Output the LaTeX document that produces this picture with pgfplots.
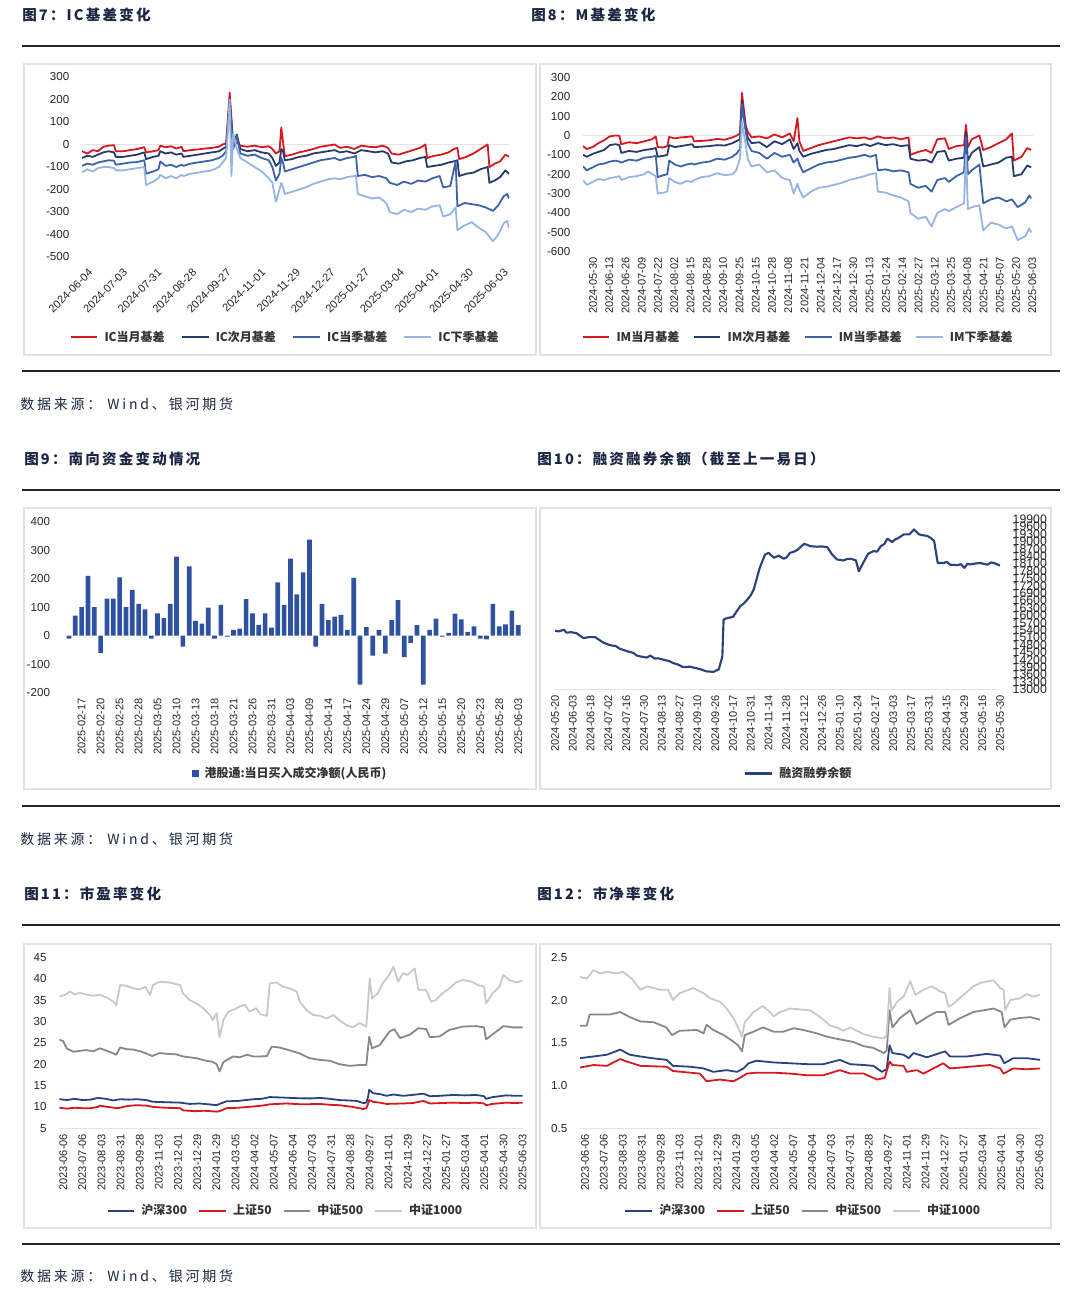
\documentclass[border=0pt]{standalone}
\usepackage{fontspec}
\setmainfont{Liberation Sans}
\newfontfamily\cjk{Noto Sans CJK SC}
\usepackage{pgfplots}
\pgfplotsset{compat=1.18}

\definecolor{cRed}{RGB}{214,24,32}
\definecolor{cNavy}{RGB}{38,58,108}
\definecolor{cMid}{RGB}{62,98,170}
\definecolor{cLight}{RGB}{150,180,228}
\definecolor{cBar}{RGB}{46,82,160}
\definecolor{cHS}{RGB}{42,66,125}
\definecolor{cG5}{RGB}{136,136,136}
\definecolor{cG1}{RGB}{200,200,200}
\definecolor{cTitle}{RGB}{28,38,66}
\definecolor{cFrame}{RGB}{226,226,226}

\def\pu{0.75pt}

\pgfplotsset{
  panel/.style={
    scale only axis, enlargelimits=false,
    axis line style={draw=none},
    major tick length=0pt, tick style={draw=none},
    /pgf/number format/assume math mode=true,
    tick label style={text=black!85},
    yticklabel style={font=\fontsize{8.7}{9}\selectfont, xshift=-6pt},
    xticklabel style={font=\fontsize{8.3}{9}\selectfont},
    grid style={gray!22, line width=0.9pt},
    extra y tick labels={},
    extra y tick style={grid=major},
    legend style={draw=none, fill=none, inner sep=0pt, anchor=west,
      font=\cjk\bfseries\fontsize{9}{10}\selectfont, text=black!80,
      /tikz/every odd column/.append style={column sep=2.5pt}},
    legend image code/.code={\draw[##1, line width=1.8pt] (0pt,0pt) -- (20pt,0pt);},
    every axis plot/.append style={line width=1.35pt, line join=round},
  },
  vlabels/.style={xticklabel style={rotate=90, anchor=east, inner sep=4pt}},
}

\begin{document}
\begin{tikzpicture}
\useasboundingbox (0,0) rectangle (810pt,-979.5pt);

% titles, rules, frames
\tikzset{ttl/.style={anchor=west, inner sep=0pt, text=cTitle,
  font=\cjk\bfseries\fontsize{10.9}{12}\selectfont\addfontfeature{LetterSpace=15}},
  src/.style={anchor=west, inner sep=0pt, text=cTitle,
  font=\cjk\fontsize{10.5}{12}\selectfont\addfontfeature{LetterSpace=20}},
  rule/.style={black!85, line width=1.6pt},
  frm/.style={cFrame, line width=0.8pt}}

\node[ttl] at (22*\pu,-15*\pu) {图7：IC基差变化};
\node[ttl] at (531*\pu,-15*\pu) {图8：M基差变化};
\draw[rule] (22*\pu,-46*\pu) -- (1060*\pu,-46*\pu);
\draw[frm] (24*\pu,-64*\pu) rectangle (536*\pu,-355*\pu);
\draw[frm] (540*\pu,-64*\pu) rectangle (1051*\pu,-355*\pu);
\draw[rule] (22*\pu,-371*\pu) -- (1060*\pu,-371*\pu);
\node[src] at (20*\pu,-404*\pu) {数据来源： Wind、银河期货};

\node[ttl] at (24*\pu,-459*\pu) {图9：南向资金变动情况};
\node[ttl] at (537*\pu,-459*\pu) {图10：融资融券余额（截至上一易日）};
\draw[rule] (22*\pu,-490*\pu) -- (1060*\pu,-490*\pu);
\draw[frm] (24*\pu,-508*\pu) rectangle (536*\pu,-789*\pu);
\draw[frm] (540*\pu,-508*\pu) rectangle (1051*\pu,-789*\pu);
\draw[rule] (22*\pu,-806*\pu) -- (1060*\pu,-806*\pu);
\node[src] at (20*\pu,-839*\pu) {数据来源： Wind、银河期货};

\node[ttl] at (24*\pu,-894*\pu) {图11：市盈率变化};
\node[ttl] at (537*\pu,-894*\pu) {图12：市净率变化};
\draw[rule] (22*\pu,-925*\pu) -- (1060*\pu,-925*\pu);
\draw[frm] (24*\pu,-944*\pu) rectangle (536*\pu,-1228*\pu);
\draw[frm] (540*\pu,-944*\pu) rectangle (1051*\pu,-1228*\pu);
\draw[rule] (22*\pu,-1244*\pu) -- (1060*\pu,-1244*\pu);
\node[src] at (20*\pu,-1276*\pu) {数据来源： Wind、银河期货};

% ---------- Fig 7: IC basis ----------
\begin{axis}[panel, at={(61.5pt,-192.75pt)}, anchor=south west,
  width=320.25pt, height=135pt,
  xmin=0, xmax=240, ymin=-500, ymax=300,
  ytick={-500,-400,...,300}, extra y ticks={0},
  xtick={6.5,26,45.4,64.9,84.3,103.8,123.2,142.7,162.1,181.6,201,220.5,240},
  xticklabels={2024-06-04,2024-07-03,2024-07-31,2024-08-28,2024-09-27,2024-11-01,2024-11-29,2024-12-27,2025-01-27,2025-03-04,2025-04-01,2025-04-30,2025-06-03},
  xticklabel style={yshift=-8pt, rotate=45, anchor=east, inner sep=3pt},
  legend columns=4,
  legend style={at={(-0.030,-0.444)}, /tikz/every even column/.append style={column sep=10pt}},
]
\addplot[cRed] coordinates {(0,-30)(3,-40)(6,-25)(9,-30)(12,-10)(15,-5)(18,-3)(19,-30)(23,-30)(27,-25)(31,-20)(35,-12)(36,-35)(40,-30)(43,-25)(44,-5)(47,-12)(50,-8)(53,-18)(56,-10)(57,-30)(61,-25)(65,-22)(69,-18)(73,-15)(77,-10)(79,0)(81,5)(83,230)(85,0)(87,10)(89,-5)(93,-10)(97,-5)(101,-12)(105,-8)(107,-20)(109,-40)(111,-30)(112,75)(113,10)(114,-52)(118,-45)(122,-35)(126,-28)(130,-20)(134,-10)(138,-5)(142,0)(145,-15)(149,-10)(153,-20)(157,-5)(161,-10)(165,-12)(169,-5)(172,-15)(174,-40)(178,-45)(182,-35)(186,-25)(190,-15)(193,0)(194,-60)(198,-50)(202,-45)(206,-35)(209,-20)(211,-15)(212,-65)(216,-55)(220,-40)(224,-20)(228,0)(229,-100)(232,-85)(235,-75)(238,-45)(240,-55)};
\addlegendentry{IC当月基差}
\addplot[cNavy] coordinates {(0,-60)(3,-50)(6,-55)(9,-45)(12,-35)(15,-30)(18,-35)(19,-55)(23,-55)(27,-50)(31,-45)(35,-35)(36,-65)(40,-55)(43,-50)(44,-30)(47,-40)(50,-35)(53,-45)(56,-40)(57,-55)(61,-50)(65,-45)(69,-40)(73,-35)(77,-30)(79,-20)(81,-10)(83,200)(85,-10)(87,45)(89,-20)(93,-30)(97,-25)(101,-35)(105,-40)(107,-60)(109,-95)(111,-80)(112,-20)(113,-30)(114,-70)(118,-65)(122,-55)(126,-50)(130,-40)(134,-35)(138,-30)(142,-25)(145,-35)(149,-30)(153,-40)(157,-25)(161,-30)(165,-35)(169,-30)(172,-40)(174,-80)(178,-85)(182,-75)(186,-70)(190,-60)(193,-55)(194,-100)(198,-95)(202,-90)(206,-80)(209,-75)(211,-70)(212,-140)(216,-130)(220,-125)(224,-110)(228,-100)(229,-170)(232,-160)(235,-145)(238,-115)(240,-130)};
\addlegendentry{IC次月基差}
\addplot[cMid] coordinates {(0,-95)(3,-85)(6,-90)(9,-80)(12,-75)(15,-70)(18,-72)(19,-90)(23,-85)(27,-80)(31,-78)(35,-70)(36,-130)(40,-120)(43,-110)(44,-75)(47,-95)(50,-90)(53,-100)(56,-90)(57,-95)(61,-85)(65,-80)(69,-75)(73,-70)(77,-60)(79,-50)(81,-30)(83,190)(85,-20)(87,40)(89,-40)(93,-50)(97,-45)(101,-60)(105,-70)(107,-100)(109,-160)(111,-130)(112,-60)(113,-80)(114,-120)(118,-110)(122,-100)(126,-90)(130,-80)(134,-70)(138,-65)(142,-60)(145,-70)(149,-60)(153,-55)(154,-50)(155,-140)(159,-135)(163,-145)(167,-140)(171,-150)(173,-170)(177,-180)(181,-165)(185,-175)(189,-160)(193,-165)(197,-150)(201,-140)(203,-190)(207,-185)(210,-75)(211,-275)(215,-260)(219,-265)(223,-270)(227,-280)(231,-295)(234,-270)(237,-230)(239,-220)(240,-240)};
\addlegendentry{IC当季基差}
\addplot[cLight] coordinates {(0,-125)(3,-110)(6,-120)(9,-105)(12,-100)(15,-100)(18,-105)(19,-115)(23,-115)(27,-110)(31,-105)(35,-100)(36,-180)(40,-165)(43,-150)(44,-135)(47,-150)(50,-140)(53,-150)(56,-135)(57,-140)(61,-130)(65,-125)(69,-120)(73,-115)(77,-100)(79,-80)(81,-60)(83,200)(84,-140)(85,50)(87,-20)(89,-60)(93,-80)(97,-100)(101,-120)(105,-150)(107,-170)(109,-255)(111,-200)(112,-170)(113,-190)(114,-220)(118,-210)(122,-200)(126,-190)(130,-175)(134,-165)(138,-155)(142,-150)(145,-155)(149,-145)(153,-140)(154,-140)(155,-220)(159,-230)(163,-240)(167,-235)(171,-260)(173,-300)(177,-310)(181,-290)(185,-300)(189,-285)(193,-290)(197,-275)(201,-270)(203,-320)(207,-310)(210,-280)(211,-380)(215,-360)(219,-345)(223,-370)(227,-390)(231,-430)(234,-400)(237,-350)(239,-340)(240,-370)};
\addlegendentry{IC下季基差}
\end{axis}

% ---------- Fig 8: IM basis ----------
\begin{axis}[panel, vlabels, at={(437.25pt,-188.78pt)}, anchor=south west,
  width=337.5pt, height=130.8pt,
  xmin=0, xmax=235, ymin=-600, ymax=300,
  ytick={-600,-500,...,300}, extra y ticks={0},
  xtick={5.2,13.7,22.2,30.7,39.2,47.7,56.2,64.7,73.2,81.7,90.2,98.7,107.2,115.7,124.2,132.7,141.2,149.7,158.2,166.7,175.2,183.7,192.2,200.7,209.2,217.7,226.2,234.7},
  xticklabels={2024-05-30,2024-06-13,2024-06-26,2024-07-09,2024-07-22,2024-08-02,2024-08-15,2024-08-28,2024-09-10,2024-09-25,2024-10-15,2024-10-28,2024-11-08,2024-11-21,2024-12-04,2024-12-17,2024-12-30,2025-01-13,2025-01-24,2025-02-14,2025-02-27,2025-03-12,2025-03-25,2025-04-08,2025-04-21,2025-05-07,2025-05-20,2025-06-03},
  legend columns=4,
  legend style={at={(-0.004,-0.489)}, /tikz/every even column/.append style={column sep=8pt}},
]
\addplot[cRed] coordinates {(0,-55)(2,-70)(5,-60)(8,-40)(11,-25)(14,-5)(17,0)(19,-2)(20,-45)(24,-35)(28,-40)(32,-30)(36,-20)(38,-5)(39,-60)(42,-62)(44,-55)(45,-8)(48,-15)(51,-10)(54,-8)(57,-5)(58,-30)(62,-28)(66,-25)(70,-18)(74,-22)(78,-10)(80,-2)(82,10)(83,220)(85,50)(86,20)(88,-10)(92,-5)(96,-15)(100,5)(104,-10)(108,10)(110,-30)(112,90)(113,-30)(115,-80)(119,-65)(123,-50)(127,-40)(131,-30)(135,-20)(139,-10)(143,-15)(147,-10)(150,-20)(154,-5)(158,-15)(162,-10)(166,-20)(170,-10)(171,-100)(175,-85)(179,-75)(182,-90)(185,-20)(189,-15)(191,-70)(195,-55)(199,-50)(200,55)(201,-60)(203,-20)(207,0)(209,-75)(213,-60)(217,-40)(221,-20)(224,10)(225,-130)(229,-110)(232,-65)(234,-75)};
\addlegendentry{IM当月基差}
\addplot[cNavy] coordinates {(0,-100)(2,-110)(5,-95)(8,-85)(11,-75)(14,-50)(17,-45)(19,-50)(20,-90)(24,-80)(28,-85)(32,-75)(36,-70)(38,-65)(39,-110)(42,-105)(44,-100)(45,-50)(48,-60)(51,-55)(54,-50)(57,-45)(58,-60)(62,-58)(66,-55)(70,-50)(74,-52)(78,-40)(80,-30)(82,-20)(83,180)(85,30)(86,-10)(88,-40)(92,-35)(96,-60)(100,-30)(104,-45)(108,-20)(110,-70)(112,-40)(113,-80)(115,-110)(119,-95)(123,-85)(127,-75)(131,-70)(135,-60)(139,-50)(143,-55)(147,-45)(150,-55)(154,-40)(158,-50)(162,-45)(166,-55)(170,-50)(171,-120)(175,-130)(179,-125)(182,-140)(185,-85)(189,-80)(191,-130)(195,-120)(199,-115)(200,20)(201,-130)(203,-90)(207,-60)(209,-160)(213,-150)(217,-140)(221,-115)(224,-110)(225,-210)(229,-200)(232,-155)(234,-165)};
\addlegendentry{IM次月基差}
\addplot[cMid] coordinates {(0,-160)(2,-180)(5,-165)(8,-150)(11,-145)(14,-135)(17,-130)(19,-135)(20,-140)(24,-125)(28,-130)(32,-115)(36,-110)(38,-105)(39,-215)(42,-205)(44,-200)(45,-130)(48,-150)(51,-160)(54,-150)(57,-145)(58,-150)(62,-140)(66,-135)(70,-120)(74,-125)(78,-110)(80,-95)(82,-70)(83,160)(85,20)(86,-40)(88,-80)(92,-90)(96,-120)(100,-90)(104,-110)(108,-100)(110,-140)(112,-120)(113,-150)(115,-190)(119,-170)(123,-150)(127,-140)(131,-135)(135,-125)(139,-115)(143,-110)(147,-100)(150,-110)(153,-100)(154,-180)(158,-175)(162,-185)(166,-180)(170,-190)(171,-250)(175,-270)(179,-260)(182,-290)(185,-230)(189,-220)(191,-240)(195,-210)(199,-190)(200,-10)(201,-200)(203,-180)(207,-150)(209,-350)(213,-330)(217,-320)(221,-340)(224,-330)(227,-370)(231,-345)(233,-310)(234,-325)};
\addlegendentry{IM当季基差}
\addplot[cLight] coordinates {(0,-230)(2,-255)(5,-240)(8,-225)(11,-230)(14,-220)(17,-215)(19,-210)(20,-230)(24,-215)(28,-210)(32,-200)(34,-185)(36,-200)(38,-210)(39,-300)(42,-295)(44,-290)(45,-220)(48,-240)(51,-250)(54,-235)(57,-240)(58,-230)(62,-215)(66,-210)(70,-195)(74,-205)(78,-200)(80,-180)(82,-120)(83,70)(85,-50)(86,-120)(88,-160)(92,-150)(96,-190)(100,-180)(104,-220)(108,-230)(110,-300)(112,-250)(113,-280)(115,-320)(119,-290)(123,-270)(127,-265)(131,-255)(135,-245)(139,-230)(143,-220)(147,-210)(150,-200)(153,-195)(154,-290)(158,-295)(162,-310)(166,-320)(170,-340)(171,-400)(175,-430)(179,-420)(182,-470)(185,-400)(189,-380)(191,-390)(195,-370)(199,-350)(200,-100)(201,-380)(203,-370)(207,-360)(209,-490)(213,-450)(217,-460)(221,-480)(224,-470)(227,-540)(231,-520)(233,-480)(234,-500)};
\addlegendentry{IM下季基差}
\end{axis}

% ---------- Fig 9: southbound flows ----------
\begin{axis}[panel, vlabels, at={(47.0pt,-519.5pt)}, anchor=south west,
  width=346.4pt, height=128.25pt,
  xmin=-1, xmax=72, ymin=-200, ymax=400,
  ytick={-200,-100,...,400},
  ybar, bar width=3.5pt, bar shift=0pt,
  xtick={2,5,...,71},
  xticklabels={2025-02-17,2025-02-20,2025-02-25,2025-02-28,2025-03-05,2025-03-10,2025-03-13,2025-03-18,2025-03-21,2025-03-26,2025-03-31,2025-04-03,2025-04-09,2025-04-14,2025-04-17,2025-04-24,2025-04-29,2025-05-07,2025-05-12,2025-05-15,2025-05-20,2025-05-23,2025-05-28,2025-06-03},
  legend style={at={(0.28,-0.47)}, /tikz/every odd column/.append style={column sep=2pt}},
  legend image code/.code={\fill[cBar] (0pt,-2.6pt) rectangle (5.2pt,2.6pt);},
]
\addplot[fill=cBar, draw=none] coordinates {(0,-10)(1,70)(2,100)(3,210)(4,100)(5,-60)(6,130)(7,130)(8,205)(9,100)(10,160)(11,112)(12,92)(13,-10)(14,78)(15,62)(16,112)(17,277)(18,-38)(19,243)(20,52)(21,42)(22,98)(23,-10)(24,108)(25,-3)(26,20)(27,25)(28,128)(29,78)(30,38)(31,78)(32,28)(33,187)(34,108)(35,270)(36,145)(37,222)(38,337)(39,-38)(40,112)(41,55)(42,67)(43,73)(44,20)(45,203)(46,-172)(47,30)(48,-70)(49,20)(50,-63)(51,55)(52,125)(53,-75)(54,-25)(55,37)(56,-172)(57,20)(58,60)(59,-3)(60,10)(61,77)(62,57)(63,13)(64,33)(65,-10)(66,-13)(67,112)(68,33)(69,40)(70,88)(71,37)};
\addlegendentry{港股通:当日买入成交净额(人民币)}
\end{axis}

% ---------- Fig 10: margin balance ----------
\begin{axis}[panel, vlabels, at={(416.25pt,-517pt)}, anchor=south west,
  width=333.75pt, height=127.5pt,
  xmin=0, xmax=250, ymin=13000, ymax=19900,
  ytick={13000,13300,...,19900}, extra y ticks={13000},
  yticklabel pos=right,
  yticklabel style={xshift=12pt, anchor=west, font=\fontsize{9.2}{9}\selectfont},
  scaled y ticks=false, /pgf/number format/1000 sep={},
  xtick={0,10,...,250},
  xticklabels={2024-05-20,2024-06-03,2024-06-18,2024-07-02,2024-07-16,2024-07-30,2024-08-13,2024-08-27,2024-09-10,2024-09-26,2024-10-17,2024-10-31,2024-11-14,2024-11-28,2024-12-12,2024-12-26,2025-01-10,2025-01-24,2025-02-17,2025-03-03,2025-03-17,2025-03-31,2025-04-15,2025-04-29,2025-05-16,2025-05-30},
  legend style={at={(0.4247,-0.494)}},
]
\addplot[cHS, line width=1.6pt] coordinates {(0,15380)(2,15350)(5,15420)(6.5,15300)(9,15320)(12,15280)(16,15080)(19,15120)(22.5,15120)(25,15000)(27,14900)(31,14790)(34,14760)(36.6,14640)(41,14540)(44,14480)(46,14370)(49,14320)(51.6,14290)(53.5,14370)(56,14250)(58,14260)(61,14200)(64,14150)(66.6,14060)(69,14010)(72,13900)(76,13920)(78,13880)(81.6,13820)(85,13730)(89,13710)(92,13810)(94,14330)(94.7,15830)(96.6,15890)(100,15940)(102,16160)(104,16370)(106,16480)(108,16640)(110,16820)(111.6,17050)(113,17400)(115,17930)(118,18470)(120,18540)(123,18340)(125.7,18430)(128.5,18300)(130,18350)(132,18540)(134,18580)(136,18650)(140,18910)(143.5,18810)(147,18790)(150,18800)(153,18770)(155.7,18470)(158.5,18270)(162,18230)(164,18290)(166,18300)(169,18240)(170.7,17790)(172.6,18060)(174,18250)(176,18510)(179,18610)(181,18590)(183,18810)(185,18900)(186.7,19110)(189.5,18980)(191,19080)(193,19150)(196,19290)(199,19290)(201.7,19490)(204.5,19290)(207,19250)(209,19230)(211,19150)(213,19020)(215,18130)(218.6,18130)(220,18180)(222,18060)(226,18040)(228,18080)(230,17930)(231.7,18100)(233,18070)(235.5,18100)(239,18130)(241,18090)(243,18060)(245,18150)(246.7,18130)(250,18020)};
\addlegendentry{融资融券余额}
\end{axis}

% ---------- Fig 11: PE ----------
\begin{axis}[panel, vlabels, at={(44.5pt,-846.2pt)}, anchor=south west,
  width=347.5pt, height=128.25pt,
  xmin=0, xmax=480, ymin=5, ymax=45,
  ytick={5,10,...,45}, extra y ticks={5},
  xtick={4,23.83,43.67,63.5,83.33,103.17,123,142.83,162.67,182.5,202.33,222.17,242,261.83,281.67,301.5,321.33,341.17,361,380.83,400.67,420.5,440.33,460.17,480},
  xticklabels={2023-06-06,2023-07-06,2023-08-03,2023-08-31,2023-09-28,2023-11-03,2023-12-01,2023-12-29,2024-01-29,2024-03-05,2024-04-02,2024-05-07,2024-06-04,2024-07-03,2024-07-31,2024-08-28,2024-09-27,2024-11-01,2024-11-29,2024-12-27,2025-01-27,2025-03-04,2025-04-01,2025-04-30,2025-06-03},
  legend columns=4,
  legend style={at={(0.1008,-0.482)}, /tikz/every even column/.append style={column sep=6pt}},
]
\addplot[cHS] coordinates {(0,11.8)(8,11.6)(16,11.9)(24,11.6)(32,11.7)(40,12.1)(48,11.9)(56,11.5)(63,11.8)(72,11.7)(80,11.8)(90,11.6)(97,11.2)(110,11.1)(125,11.0)(135,10.7)(145,10.8)(155,10.6)(163,10.4)(166,10.7)(173,11.3)(185,11.4)(201,11.8)(210,11.9)(218,12.3)(230,12.2)(240,12.1)(252,12.0)(262,12.0)(270,12.1)(280,11.9)(290,11.6)(300,11.5)(308,11.4)(315,10.9)(318,11.0)(320,12.5)(321,14.0)(325,13.2)(332,13.0)(339,12.6)(346,12.9)(356,12.6)(366,12.8)(377,13.1)(384,12.5)(395,12.6)(408,12.8)(420,12.7)(432,12.8)(440,12.5)(442,11.9)(449,12.3)(463,12.7)(472,12.6)(480,12.6)};
\addlegendentry{沪深300}
\addplot[cRed] coordinates {(0,9.8)(8,9.6)(16,9.8)(24,9.7)(32,9.7)(40,10.0)(42,10.3)(50,10.0)(60,9.7)(63,9.8)(70,10.2)(80,10.4)(90,10.3)(97,10.0)(110,9.8)(125,9.7)(128,9.2)(140,9.0)(150,9.1)(163,8.9)(166,9.0)(173,9.7)(185,9.8)(201,10.1)(210,10.3)(218,10.6)(235,10.8)(252,10.6)(270,10.7)(280,10.5)(290,10.4)(304,10.0)(315,9.5)(318,9.7)(320,10.8)(321,11.6)(325,11.2)(332,11.0)(339,10.7)(356,10.8)(366,10.9)(377,11.4)(384,10.8)(395,10.9)(408,11.0)(420,10.9)(432,11.0)(440,10.8)(442,10.4)(449,10.7)(463,11.0)(472,10.9)(480,11.0)};
\addlegendentry{上证50}
\addplot[cG5] coordinates {(0,25.7)(4,25.4)(7.6,23.7)(14.5,22.9)(21,23.1)(28,23.3)(35,23.0)(42,23.7)(52,22.9)(59,22.2)(63,23.9)(70,23.5)(77,23.4)(84,23.0)(90,22.5)(96,21.9)(104,22.6)(112,22.4)(121,22.3)(128,21.8)(135,21.6)(142,21.4)(152,20.8)(158,20.6)(163,20.0)(166,18.3)(170,20.5)(180,21.8)(187,21.6)(194,22.2)(201,21.8)(208,21.8)(215,21.9)(220,24.1)(228,23.9)(239,23.2)(249,22.5)(259,21.4)(270,21.0)(280,20.8)(290,20.0)(301,19.6)(311,19.8)(318,19.8)(321,26.4)(324,23.7)(332,24.5)(342,27.6)(347,28.2)(353,26.1)(363,26.9)(372,28.4)(380,28.2)(384,26.3)(394,26.5)(404,28.0)(418,28.8)(432,28.9)(440,28.6)(442,25.8)(449,27.0)(460,28.9)(470,28.6)(480,28.6)};
\addlegendentry{中证500}
\addplot[cG1] coordinates {(0,35.8)(6,36.2)(11,37.0)(16,36.3)(21,36.7)(28,36.3)(35,36.0)(42,36.2)(49,35.6)(56,34.6)(59,33.8)(63,38.5)(70,38.3)(77,37.7)(83,37.5)(89,38.1)(94,36.2)(97,38.5)(104,39.3)(114,39.1)(125,38.5)(128,36.6)(135,35.0)(142,34.2)(149,33.1)(156,31.5)(159,30.3)(163,31.9)(166,26.3)(170,30.3)(175,32.3)(180,32.7)(187,33.5)(192,33.9)(197,32.3)(204,33.1)(208,31.7)(215,31.3)(218,38.9)(225,39.1)(232,38.1)(239,37.7)(246,37.0)(249,34.6)(256,32.7)(263,31.5)(270,31.3)(277,30.7)(284,31.5)(290,30.3)(297,29.2)(304,28.6)(311,29.6)(318,28.8)(320,35.0)(321.5,40.1)(324,35.4)(330,36.6)(335,38.9)(342,40.9)(346,42.8)(351,39.3)(356,41.3)(361,40.9)(368,42.4)(372,37.4)(380,37.4)(385,34.6)(390,35.0)(397,36.6)(404,37.7)(411,39.1)(418,39.7)(427,39.3)(434,38.5)(440,38.1)(442,34.2)(449,36.6)(456,38.1)(460,40.9)(466,39.7)(473,39.1)(480,39.5)};
\addlegendentry{中证1000}
\end{axis}

% ---------- Fig 12: PB ----------
\begin{axis}[panel, vlabels, at={(435pt,-846.2pt)}, anchor=south west,
  width=345pt, height=128.25pt,
  xmin=0, xmax=480, ymin=0.5, ymax=2.5,
  ytick={0.5,1.0,1.5,2.0,2.5}, extra y ticks={0.5},
  yticklabel style={/pgf/number format/.cd, fixed, fixed zerofill, precision=1},
  xtick={5.2,24.95,44.7,64.45,84.2,103.95,123.7,143.45,163.2,182.95,202.7,222.45,242.2,261.95,281.7,301.45,321.2,340.95,360.7,380.45,400.2,419.95,439.7,459.45,479.2},
  xticklabels={2023-06-06,2023-07-06,2023-08-03,2023-08-31,2023-09-28,2023-11-03,2023-12-01,2023-12-29,2024-01-29,2024-03-05,2024-04-02,2024-05-07,2024-06-04,2024-07-03,2024-07-31,2024-08-28,2024-09-27,2024-11-01,2024-11-29,2024-12-27,2025-01-27,2025-03-04,2025-04-01,2025-04-30,2025-06-03},
  legend columns=4,
  legend style={at={(0.0957,-0.482)}, /tikz/every even column/.append style={column sep=6pt}},
]
\addplot[cHS] coordinates {(0,1.32)(14,1.34)(28,1.36)(42,1.42)(52,1.36)(63,1.34)(75,1.32)(90.5,1.30)(97,1.23)(115,1.22)(129,1.20)(139,1.16)(153,1.18)(164,1.16)(170.5,1.20)(176,1.26)(184,1.29)(202,1.27)(220,1.26)(237,1.25)(254,1.25)(271,1.30)(282,1.25)(296,1.24)(306,1.23)(315,1.16)(320,1.19)(323,1.47)(326,1.38)(337.6,1.36)(343,1.32)(348,1.38)(362,1.33)(381,1.40)(386,1.34)(404,1.34)(424.6,1.37)(438.5,1.35)(442.7,1.26)(452,1.32)(466,1.32)(480,1.30)};
\addlegendentry{沪深300}
\addplot[cRed] coordinates {(0,1.21)(14,1.24)(28,1.23)(42,1.31)(49,1.28)(63,1.23)(90.5,1.22)(97,1.17)(115,1.15)(125,1.14)(132,1.05)(146,1.07)(160,1.05)(167,1.09)(174,1.14)(184,1.15)(202,1.15)(219,1.14)(237,1.12)(254,1.12)(271,1.18)(282,1.14)(296,1.14)(310,1.07)(318,1.09)(323,1.28)(326,1.24)(337.6,1.23)(341,1.16)(351.5,1.18)(358.4,1.14)(379,1.26)(386,1.20)(407,1.22)(428,1.24)(438.5,1.20)(442,1.14)(452,1.20)(466,1.19)(480,1.20)};
\addlegendentry{上证50}
\addplot[cG5] coordinates {(0,1.70)(7,1.70)(10,1.83)(21,1.83)(31,1.83)(42,1.86)(52,1.80)(63,1.75)(77,1.74)(90,1.68)(96,1.59)(104,1.64)(122,1.65)(129,1.61)(132,1.71)(139,1.65)(150,1.59)(158,1.53)(165,1.47)(169,1.40)(172,1.59)(181,1.63)(191,1.68)(202,1.63)(212,1.63)(223,1.67)(233,1.65)(247,1.61)(258,1.57)(271,1.54)(285,1.51)(296,1.46)(306,1.44)(317,1.38)(320,1.41)(323,1.88)(326,1.68)(334,1.79)(344.5,1.88)(351,1.72)(362,1.80)(372,1.86)(381,1.86)(384.5,1.71)(397,1.79)(410.6,1.86)(421,1.88)(431.5,1.90)(440,1.86)(443,1.68)(449,1.77)(459,1.79)(470,1.80)(480,1.77)};
\addlegendentry{中证500}
\addplot[cG1] coordinates {(0,2.27)(7,2.25)(14,2.35)(21,2.31)(28,2.33)(38,2.31)(45,2.33)(54,2.25)(63,2.12)(70,2.16)(83.5,2.12)(92,2.12)(97,2.00)(104,2.08)(118,2.14)(129,2.08)(136,2.02)(146,1.98)(153,1.90)(160,1.79)(167,1.63)(169,1.57)(172,1.74)(181,1.86)(191,1.93)(198,1.86)(202,1.81)(209,1.86)(219,1.90)(230,1.89)(240,1.88)(247,1.83)(254,1.77)(261,1.70)(268,1.68)(275,1.64)(282,1.68)(289,1.64)(296,1.60)(306,1.57)(317,1.55)(320,1.59)(323,2.14)(325,1.88)(331,1.98)(337.6,2.04)(344.5,2.22)(350,2.06)(358,2.12)(367,2.16)(376,2.10)(381,2.08)(384.5,1.92)(390,1.96)(400,2.06)(410.6,2.16)(417.6,2.20)(426,2.22)(431.5,2.23)(438.5,2.14)(442,2.12)(443.7,1.88)(449,2.00)(459,2.02)(466,2.07)(473,2.04)(480,2.06)};
\addlegendentry{中证1000}
\end{axis}
\end{tikzpicture}
\end{document}
